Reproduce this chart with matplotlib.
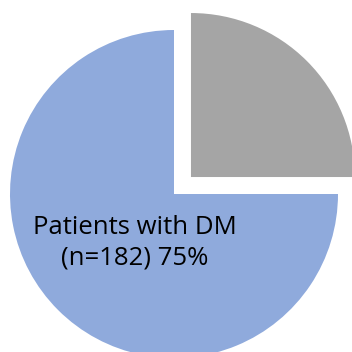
import matplotlib
matplotlib.use('Agg')
import matplotlib.pyplot as plt

# data
groups = ['Patients without DM', 'Patients with DM']
counts_n = [None, 182]
shares = [25, 75]
colors = ['#A5A5A5', '#8FAADC']

# only the DM slice carries a label in the original
labels = ['' if n is None else f'{g}\n(n={n}) {s}%'
          for g, n, s in zip(groups, counts_n, shares)]

fig = plt.figure(figsize=(3.52, 3.52), dpi=100)
ax = fig.add_axes([0, 0, 1, 1])

# work in pixel-like units so the pie lands where it does in the original
wedges, texts = ax.pie(shares, labels=labels, colors=colors, startangle=90,
                       counterclock=False, explode=[24, 0], radius=164,
                       center=(174, 158), labeldistance=0.38,
                       wedgeprops=dict(linewidth=0),
                       textprops=dict(ha='center', va='center',
                                      multialignment='center', fontsize=18.5,
                                      family='Open Sans', color='black',
                                      linespacing=1.3))
texts[1].set_position((135, 109))

ax.set_xlim(0, 352)
ax.set_ylim(0, 352)
ax.set_aspect('equal')
ax.axis('off')

fig.savefig('out.png', dpi=100)
